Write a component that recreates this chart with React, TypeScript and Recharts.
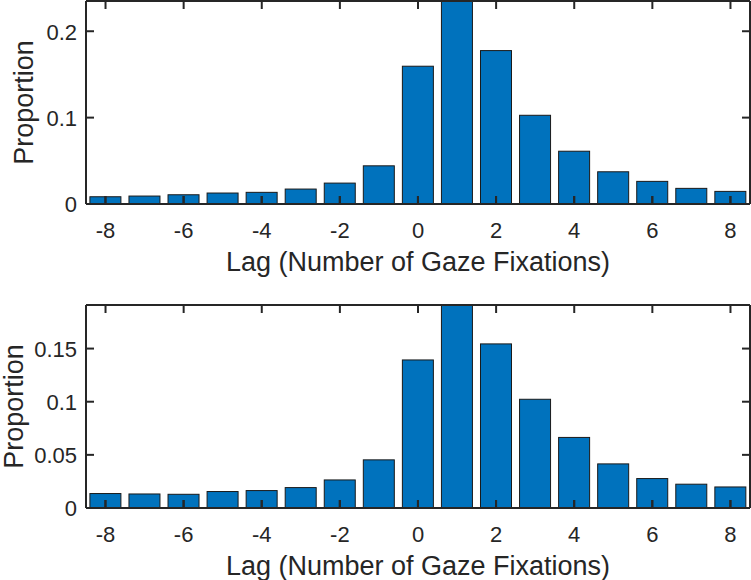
import React from 'react';
import { BarChart, Bar, XAxis, YAxis, Label, CartesianGrid } from 'recharts';

const lags = [-8, -7, -6, -5, -4, -3, -2, -1, 0, 1, 2, 3, 4, 5, 6, 7, 8];
const proportionsTop = [0.0084, 0.0092, 0.0107, 0.0127, 0.0135, 0.0173, 0.0242, 0.0442, 0.1595, 0.25, 0.1776, 0.1027, 0.0611, 0.0373, 0.0262, 0.0181, 0.0146];
const proportionsBottom = [0.0136, 0.0132, 0.0129, 0.0155, 0.0164, 0.0192, 0.0264, 0.0453, 0.1393, 0.2, 0.1544, 0.1023, 0.0664, 0.0415, 0.0277, 0.0224, 0.0198];
const topYTicks = [0, 0.1, 0.2];
const bottomYTicks = [0, 0.05, 0.1, 0.15];
const topYMax = 0.235;
const bottomYMax = 0.191;
const xLabel = 'Lag (Number of Gaze Fixations)';
const yLabel = 'Proportion';

const AXIS = '#262626';
const BAR = '#0072BD';
const FONT = '"Liberation Sans", Arial, Helvetica, sans-serif';
const TICK_FS = 22;
const LABEL_FS = 27;
const TL = 8;
const LW = 2;

const BottomTick = (props: any) => {
  const x = Number(props.x);
  const y = Number(props.y);
  return (
    <g>
      <path d={`M${x},${y}L${x},${y - TL}`} stroke={AXIS} strokeWidth={LW} />
      <text x={x} y={y + 34} textAnchor="middle" fontSize={TICK_FS} fill={AXIS} fontFamily={FONT}>
        {props.payload.value}
      </text>
    </g>
  );
};

const TopTick = (props: any) => {
  const x = Number(props.x);
  const y = Number(props.y);
  return <path d={`M${x},${y}L${x},${y + TL}`} stroke={AXIS} strokeWidth={LW} />;
};

const LeftTick = (props: any) => {
  const x = Number(props.x);
  const y = Number(props.y);
  return (
    <text x={x - 9} y={y} dy="0.38em" textAnchor="end" fontSize={TICK_FS} fill={AXIS} fontFamily={FONT}>
      {String(props.payload.value)}
    </text>
  );
};

// short inward tick marks on the left and right frame edges, at the y-axis tick positions
const YTickMarks = (props: any) => {
  const x1 = Number(props.x1);
  const x2 = Number(props.x2);
  const y = Number(props.y1);
  return (
    <g>
      <path d={`M${x1},${y}L${x1 + TL},${y}`} stroke={AXIS} strokeWidth={LW} />
      <path d={`M${x2},${y}L${x2 - TL},${y}`} stroke={AXIS} strokeWidth={LW} />
    </g>
  );
};

// bar shape: the rectangle, plus the x-axis tick mark drawn over it at even lags (axes on top, as in the original)
const BarWithTick = (props: any) => {
  const x = Number(props.x);
  const y = Number(props.y);
  const w = Number(props.width);
  const h = Number(props.height);
  if (![x, y, w, h].every((v) => Number.isFinite(v))) return null;
  const top = Math.min(y, y + h);
  const hh = Math.abs(h);
  const lag = props.payload ? Number(props.payload.lag) : NaN;
  const base = top + hh;
  const cx = x + w / 2;
  return (
    <g>
      <rect x={x} y={top} width={w} height={hh} fill={BAR} stroke="#1a1a1a" strokeWidth={1} />
      {Number.isFinite(lag) && Math.abs(lag) % 2 === 0 ? (
        <path d={`M${cx},${base}L${cx},${base - TL}`} stroke={AXIS} strokeWidth={LW} fill="none" />
      ) : null}
    </g>
  );
};

const makeXLabel = (dy: number) => (props: any) => {
  const vb = props.viewBox || {};
  const cx = vb.x + vb.width / 2;
  return (
    <text x={cx} y={vb.y + dy} textAnchor="middle" fontSize={LABEL_FS} fill={AXIS} fontFamily={FONT}>
      {xLabel}
    </text>
  );
};

const makeYLabel = (bx: number) => (props: any) => {
  const vb = props.viewBox || {};
  const cy = vb.y + vb.height / 2;
  const x = vb.x + bx;
  return (
    <text x={x} y={cy} textAnchor="middle" fontSize={LABEL_FS} fill={AXIS} fontFamily={FONT} transform={`rotate(-90, ${x}, ${cy})`}>
      {yLabel}
    </text>
  );
};

type PanelProps = {
  values: number[];
  yTicks: number[];
  yMax: number;
  marginTop: number;
  xAxisHeight: number;
  yLabelX: number;
};

const Panel = ({ values, yTicks, yMax, marginTop, xAxisHeight, yLabelX }: PanelProps) => {
  const data = lags.map((lag, i) => ({ lag, value: values[i] }));
  return (
    <BarChart
      width={751}
      height={290}
      data={data}
      margin={{ top: marginTop - 1, right: 0, bottom: 0, left: 0 }}
      barCategoryGap="10%"
      style={{ fontFamily: FONT }}
    >
      <CartesianGrid
        xAxisId="b"
        yAxisId="l"
        vertical={false}
        horizontal={(p: any) => <YTickMarks key={`h-${p.index}`} {...p} />}
        stroke={AXIS}
      />
      <Bar
        dataKey="value"
        xAxisId="b"
        yAxisId="l"
        fill={BAR}
        stroke="#1a1a1a"
        strokeWidth={1}
        shape={(p: any) => <BarWithTick {...p} />}
        isAnimationActive={false}
      />
      <XAxis
        xAxisId="b"
        dataKey="lag"
        type="category"
        orientation="bottom"
        height={xAxisHeight}
        interval={1}
        tickSize={0}
        tickMargin={0}
        tickLine={false}
        stroke={AXIS}
        axisLine={{ stroke: AXIS, strokeWidth: LW }}
        tick={<BottomTick />}
      >
        <Label content={makeXLabel(67)} />
      </XAxis>
      <XAxis
        xAxisId="t"
        dataKey="lag"
        type="category"
        orientation="top"
        height={1}
        interval={1}
        tickSize={0}
        tickMargin={0}
        tickLine={false}
        stroke={AXIS}
        axisLine={{ stroke: AXIS, strokeWidth: LW }}
        tick={<TopTick />}
      />
      <YAxis
        yAxisId="l"
        orientation="left"
        width={86}
        type="number"
        domain={[0, yMax]}
        ticks={yTicks}
        allowDataOverflow
        tickSize={0}
        tickMargin={0}
        tickLine={false}
        stroke={AXIS}
        axisLine={{ stroke: AXIS, strokeWidth: LW }}
        tick={<LeftTick />}
      >
        <Label content={makeYLabel(yLabelX)} />
      </YAxis>
      <YAxis
        yAxisId="r"
        orientation="right"
        width={1}
        type="number"
        domain={[0, yMax]}
        ticks={yTicks}
        allowDataOverflow
        tickSize={0}
        tickMargin={0}
        tickLine={false}
        stroke={AXIS}
        axisLine={{ stroke: AXIS, strokeWidth: LW }}
        tick={false}
      />
    </BarChart>
  );
};

export default function App() {
  return (
    <div style={{ position: 'absolute', left: 0, top: 0, width: 751, height: 580, background: '#fff' }}>
      <div style={{ position: 'absolute', left: 0, top: 0 }}>
        <Panel values={proportionsTop} yTicks={topYTicks} yMax={topYMax} marginTop={1} xAxisHeight={86} yLabelX={32.5} />
      </div>
      <div style={{ position: 'absolute', left: 0, top: 290 }}>
        <Panel values={proportionsBottom} yTicks={bottomYTicks} yMax={bottomYMax} marginTop={15} xAxisHeight={72} yLabelX={23} />
      </div>
    </div>
  );
}
